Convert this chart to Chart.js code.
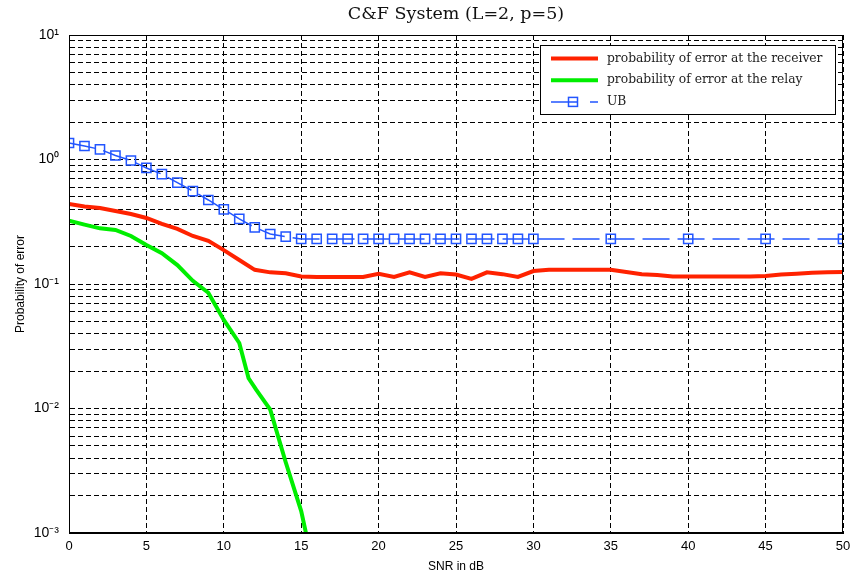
<!DOCTYPE html>
<html>
<head>
<meta charset="utf-8">
<script src="https://cdn.jsdelivr.net/npm/chart.js@4"></script>
<style>
  html, body { margin: 0; padding: 0; background: #fff; }
  #wrap { width: 851px; height: 580px; }
</style>
</head>
<body>
<div id="wrap"><canvas id="myChart"></canvas></div>
<script>
// SNR axis (dB)
var snr = [0, 1, 2, 3, 4, 5, 6, 7, 8, 9, 10, 11, 12, 13, 14, 15, 16, 17, 18, 19, 20,
  21, 22, 23, 24, 25, 26, 27, 28, 29, 30, 31, 32, 33, 34, 35, 36, 37, 38, 39, 40,
  41, 42, 43, 44, 45, 46, 47, 48, 49, 50];

var receiverPe = [0.439, 0.419, 0.408, 0.386, 0.365, 0.339, 0.304, 0.277, 0.243, 0.222, 0.187,
  0.156, 0.130, 0.124, 0.122, 0.115, 0.114, 0.114, 0.114, 0.114, 0.121,
  0.114, 0.124, 0.114, 0.122, 0.119, 0.110, 0.124, 0.120, 0.114, 0.127,
  0.130, 0.130, 0.130, 0.130, 0.130, 0.125, 0.120, 0.118, 0.115, 0.115,
  0.115, 0.115, 0.115, 0.115, 0.116, 0.119, 0.121, 0.123, 0.124, 0.125];

var relaySnr = [0, 1, 2, 3, 4, 5, 6, 7, 8, 9, 10, 11, 11.6, 12.1, 13, 14, 15, 16];
var relayPe = [0.322, 0.300, 0.280, 0.272, 0.243, 0.206, 0.177, 0.142, 0.106, 0.085, 0.0514,
  0.0336, 0.0175, 0.0141, 0.0098, 0.0037, 0.0015, 0.0004];

var ubSnr = [0, 1, 2, 3, 4, 5, 6, 7, 8, 9, 10, 11, 12, 13, 14, 15, 16, 17, 18, 19, 20,
  21, 22, 23, 24, 25, 26, 27, 28, 29, 30, 35, 40, 45, 50];
var ubPe = [1.357, 1.283, 1.207, 1.077, 0.982, 0.855, 0.762, 0.651, 0.558, 0.473, 0.397,
  0.333, 0.285, 0.252, 0.240, 0.230, 0.230, 0.230, 0.230, 0.230, 0.230,
  0.230, 0.230, 0.230, 0.230, 0.230, 0.230, 0.230, 0.230, 0.230, 0.230,
  0.230, 0.230, 0.230, 0.230];

var yGridValues = [0.001, 0.002, 0.003, 0.004, 0.005, 0.006, 0.007, 0.008, 0.009,
  0.01, 0.02, 0.03, 0.04, 0.05, 0.06, 0.07, 0.08, 0.09,
  0.1, 0.2, 0.3, 0.4, 0.5, 0.6, 0.7, 0.8, 0.9,
  1, 2, 3, 4, 5, 6, 7, 8, 9, 10];
var decadeValues = [0.001, 0.01, 0.1, 1, 10];
var decadeLabels = ["10\u207B\u00B3", "10\u207B\u00B2", "10\u207B\u00B9", "10\u2070", "10\u00B9"];

function toPoints(xs, ys) {
  return xs.map(function (x, i) { return { x: x, y: ys[i] }; });
}

// dashed grid, given as a function so the array is not read per tick
function gridDash() { return [5, 3]; }

// box round the plot + legend inside it, MATLAB style
var boxAndLegend = {
  id: "boxAndLegend",
  afterDraw: function (chart) {
    var ctx = chart.ctx;
    var a = chart.chartArea;
    ctx.save();
    ctx.strokeStyle = "#000";
    ctx.lineWidth = 1;
    ctx.strokeRect(a.left + 0.5, a.top + 0.5, a.right - a.left - 1, a.bottom - a.top - 1);

    var lx = 540, ly = 45, lw = 295, lh = 69;
    ctx.fillStyle = "#fff";
    ctx.fillRect(lx, ly, lw, lh);
    ctx.strokeRect(lx + 0.5, ly + 0.5, lw, lh);

    ctx.font = "12.3px 'DejaVu Serif', serif";
    ctx.textBaseline = "middle";
    chart.data.datasets.forEach(function (ds, i) {
      var y = ly + 13.5 + i * 21.7;
      ctx.strokeStyle = ds.borderColor;
      ctx.lineWidth = ds.borderWidth;
      ctx.beginPath();
      if (ds.borderDash) {
        ctx.moveTo(551, y); ctx.lineTo(578, y);
        ctx.moveTo(590, y); ctx.lineTo(598, y);
        ctx.stroke();
        ctx.lineWidth = 1.5;
        ctx.strokeRect(568.5, y - 4.5, 9, 9);
      } else {
        ctx.moveTo(551, y); ctx.lineTo(598, y);
        ctx.stroke();
      }
      ctx.fillStyle = "#222";
      ctx.fillText(ds.label, 607, y);
    });
    ctx.restore();
  }
};

var ctx = document.getElementById("myChart").getContext("2d");
var myChart = new Chart(ctx, {
  type: "line",
  data: {
    datasets: [
      {
        label: "probability of error at the receiver",
        data: toPoints(snr, receiverPe),
        borderColor: "#ff2200",
        borderWidth: 4,
        pointRadius: 0,
        tension: 0,
      },
      {
        label: "probability of error at the relay",
        data: toPoints(relaySnr, relayPe),
        borderColor: "#00ee00",
        borderWidth: 4,
        pointRadius: 0,
        tension: 0,
      },
      {
        label: "UB",
        data: toPoints(ubSnr, ubPe),
        borderColor: "#2255ff",
        borderWidth: 1.5,
        borderDash: [27, 8],
        pointStyle: "rect",
        pointRadius: 6.5,
        pointBorderWidth: 1.5,
        pointBorderColor: "#2255ff",
        pointBackgroundColor: "rgba(0,0,0,0)",
        tension: 0,
      },
    ],
  },
  options: {
    responsive: true,
    maintainAspectRatio: false,
    animation: false,
    layout: { padding: 0 },
    plugins: {
      legend: { display: false },
      tooltip: { enabled: false },
      title: {
        display: true,
        fullSize: false,
        text: "C&F System (L=2, p=5)",
        color: "#111",
        font: { family: "'DejaVu Serif', serif", size: 17.5, weight: "normal" },
        padding: { top: 4, bottom: 10 },
      },
    },
    scales: {
      x: {
        type: "linear",
        min: 0,
        max: 50,
        ticks: {
          stepSize: 5,
          color: "#000",
          padding: 6,
          font: { family: "'Liberation Sans', Arial, sans-serif", size: 13 },
        },
        grid: { color: "#000", lineWidth: 1, drawTicks: false },
        border: { display: true, color: "#000", width: 1, dash: gridDash },
        title: {
          display: true,
          text: "SNR in dB",
          color: "#000",
          font: { family: "'Liberation Sans', Arial, sans-serif", size: 12 },
          padding: { top: 0, bottom: 6 },
        },
        afterFit: function (scale) {
          scale.height = 47;
          scale.paddingRight = 4;
          scale.paddingLeft = 0;
        },
      },
      y: {
        type: "logarithmic",
        min: 0.001,
        max: 10,
        afterBuildTicks: function (scale) {
          scale.ticks = yGridValues.map(function (v) { return { value: v }; });
        },
        ticks: {
          autoSkip: false,
          color: "#000",
          padding: 10,
          font: { family: "'Liberation Sans', Arial, sans-serif", size: 14 },
          callback: function (value) {
            for (var i = 0; i < decadeValues.length; i++) {
              if (Math.abs(value - decadeValues[i]) < decadeValues[i] * 1e-6) return decadeLabels[i];
            }
            return "";
          },
        },
        grid: { color: "#000", lineWidth: 1, drawTicks: false },
        border: { display: true, color: "#000", width: 1, dash: gridDash },
        title: {
          display: true,
          text: "Probability of error",
          color: "#000",
          font: { family: "'Liberation Sans', Arial, sans-serif", size: 12 },
          padding: { top: 13, bottom: 0 },
        },
        afterFit: function (scale) { scale.width = 69; },
      },
    },
  },
  plugins: [boxAndLegend],
});
</script>
</body>
</html>
